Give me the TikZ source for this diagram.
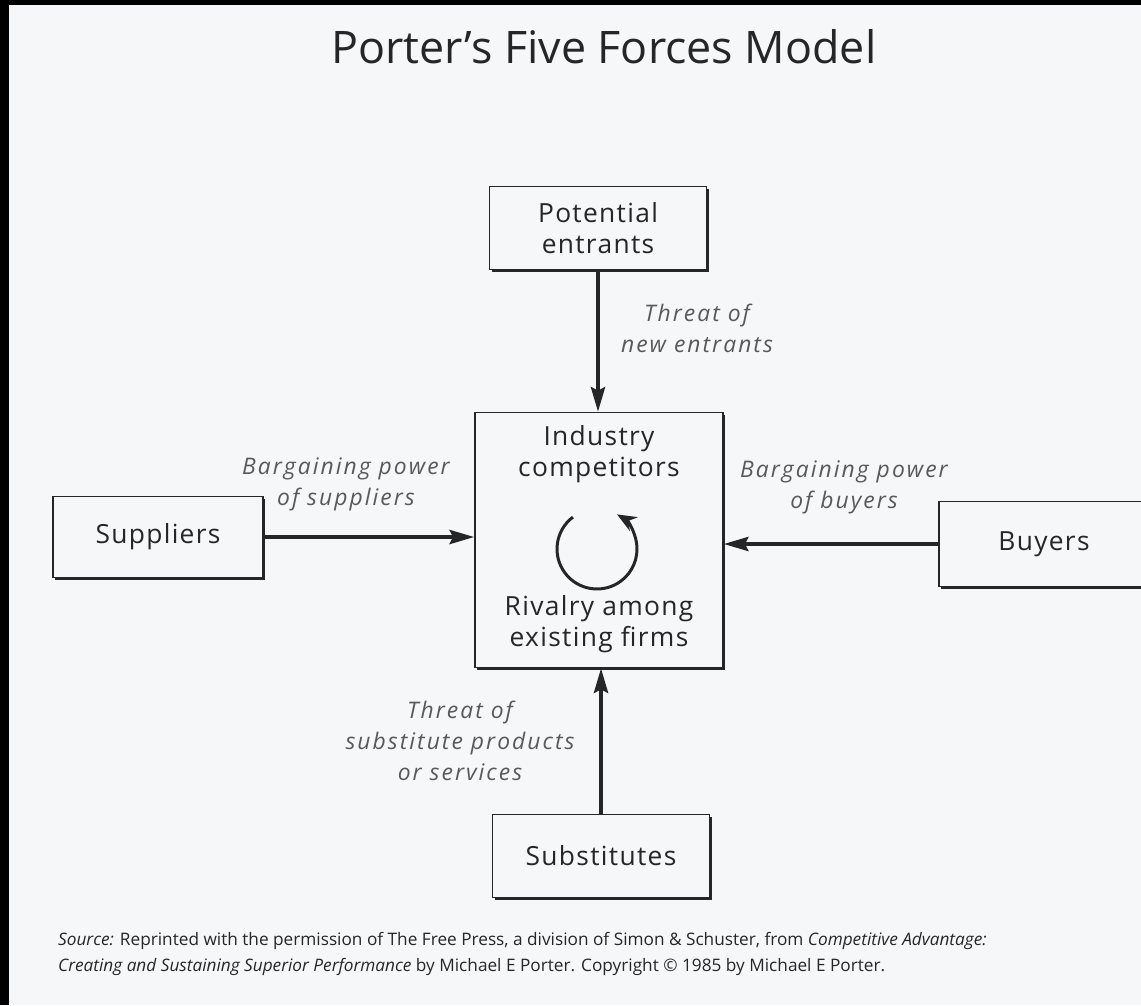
\documentclass[tikz,border=0pt]{standalone}
\usepackage{fontspec}
\setmainfont{Open Sans}
\newfontfamily\boxface[LetterSpace=5]{Open Sans}
\newfontfamily\tagface[LetterSpace=9]{Open Sans}
\usetikzlibrary{arrows.meta,shadows}

\definecolor{paper}{RGB}{246,247,249}
\definecolor{ink}{RGB}{38,38,38}
\newcommand{\boxfont}{\boxface\fontsize{15}{17.5}\selectfont}
\newcommand{\tagfont}{\tagface\fontsize{13}{17.5}\selectfont\itshape}

\tikzset{
	force/.style={draw=ink, line width=0.9pt, fill=paper, text=ink, font=\boxfont, align=center, inner sep=0pt,
		drop shadow={shadow xshift=1.4pt, shadow yshift=-1.4pt, fill=ink, opacity=1}},
	push/.style={line width=2.3pt, draw=ink, -{Stealth[length=14pt, width=8pt, inset=2pt]}},
	tag/.style={font=\tagfont, align=center, text=black!65},
}

\begin{document}
\begin{tikzpicture}[x=0.02cm, y=-0.02cm]
			%%%%% START %%%%%
			
			\fill[black] (0, 0) rectangle (1141, 1005);
			\fill[paper] (9, 5) rectangle (1141, 1005);
			\clip (0, 0) rectangle (1141, 1005);
			
			\node[anchor=base, font=\fontsize{25.5}{30}\selectfont, text=ink] (title) at (604, 63) {Porter's Five Forces Model};
			
			\node[force, minimum width=4.96cm, minimum height=5.1cm] (rivals) at (599, 540) {};
			\node[force, minimum width=4.34cm, minimum height=1.66cm] (entrants) at (598, 228) {Potential\\entrants};
			\node[force, minimum width=4.2cm, minimum height=1.62cm] (suppliers) at (158, 537) {Suppliers};
			\node[force, minimum width=4.2cm, minimum height=1.7cm] (buyers) at (1044, 544) {Buyers};
			\node[force, minimum width=4.34cm, minimum height=1.66cm] (substitutes) at (601, 856) {Substitutes};
			
			\node[font=\boxfont, text=ink, align=center] (industry) at (599, 454) {Industry\\competitors};
			\node[font=\boxfont, text=ink, align=center] (rivalry) at (599, 624) {Rivalry among\\existing firms};
			\coordinate (spin) at (597, 549);
			\draw[line width=1.7pt, ink, -{Stealth[length=11pt, width=9pt]}] (spin) ++(127:0.8cm) arc[start angle=127, end angle=420, radius=0.8cm];
			
			\draw[push] (entrants.south) -- (entrants.south |- rivals.north);
			\draw[push] (suppliers.east) -- (suppliers.east -| rivals.west);
			\draw[push] (buyers.west) -- (buyers.west -| rivals.east);
			\draw[push] (substitutes.north) -- (substitutes.north |- rivals.south);
			
			\node[tag] (newtag) at (697, 328) {Threat of\\new entrants};
			\node[tag] (suptag) at (346, 484) {Bargaining power\\of suppliers};
			\node[tag] (buytag) at (844, 487) {Bargaining power\\of buyers};
			\node[tag] (subtag) at (460, 741) {Threat of\\substitute products\\or services};
			
			\node[anchor=west, align=left, font=\fontsize{9.8}{14.7}\selectfont, text=ink] (source) at (52, 954) {\textit{Source:} Reprinted with the permission of The Free Press, a division of Simon \& Schuster, from \textit{Competitive Advantage:}\\\textit{Creating and Sustaining Superior Performance} by Michael E Porter. Copyright © 1985 by Michael E Porter.};
			
			%%%%% END %%%%%
\end{tikzpicture}
\end{document}
